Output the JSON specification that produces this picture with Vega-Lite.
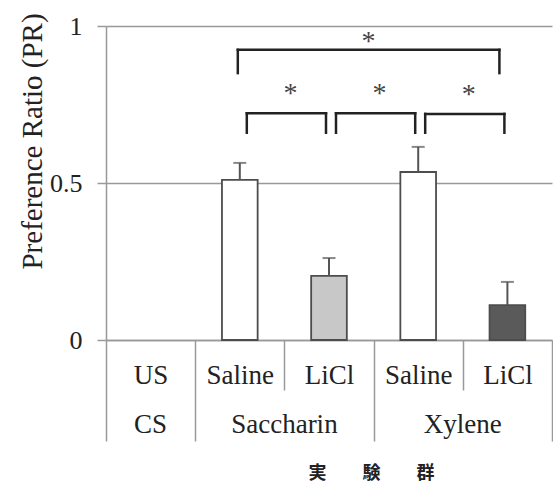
{
  "$schema": "https://vega.github.io/schema/vega-lite/v6.json",
  "width": 446,
  "height": 314,
  "autosize": {"type": "none"},
  "padding": {"left": 106, "top": 26, "right": 1, "bottom": 144},
  "background": "white",
  "config": {"view": {"stroke": null}, "font": "Liberation Serif"},
  "datasets": {
    "groups": [
      {"slot": "Sac-Saline", "pr": 0.51, "upper": 0.564},
      {"slot": "Sac-LiCl", "pr": 0.204, "upper": 0.261},
      {"slot": "Xyl-Saline", "pr": 0.535, "upper": 0.615},
      {"slot": "Xyl-LiCl", "pr": 0.111, "upper": 0.185}
    ],
    "brackets": [
      {"level": "pair", "from": "Sac-Saline", "to": "Sac-LiCl", "mid": "Sac-LiCl", "top": 0.722, "foot": 0.66, "star": 0.784},
      {"level": "pair", "from": "Sac-LiCl", "to": "Xyl-Saline", "mid": "Xyl-Saline", "top": 0.722, "foot": 0.66, "star": 0.784},
      {"level": "pair", "from": "Xyl-Saline", "to": "Xyl-LiCl", "mid": "Xyl-LiCl", "top": 0.72, "foot": 0.66, "star": 0.781},
      {"level": "span", "from": "Sac-Saline", "to": "Xyl-LiCl", "mid": "Xyl-Saline", "top": 0.924, "foot": 0.85, "star": 0.949}
    ],
    "cs": [
      {"slot": "US", "cs": "CS", "pos": "center"},
      {"slot": "Sac-Saline", "cs": "Saccharin", "pos": "edge"},
      {"slot": "Xyl-Saline", "cs": "Xylene", "pos": "edge"}
    ]
  },
  "layer": [
    {
      "data": {"name": "groups"},
      "mark": {"type": "bar", "width": {"band": 0.4}, "stroke": "#4d4d4d", "strokeWidth": 1.8},
      "encoding": {
        "x": {
          "field": "slot", "type": "nominal",
          "scale": {"domain": ["US", "Sac-Saline", "Sac-LiCl", "Xyl-Saline", "Xyl-LiCl"], "paddingInner": 0, "paddingOuter": 0},
          "axis": {
            "title": "実　　験　　群",
            "titleFont": "Noto Sans CJK JP", "titleFontSize": 18, "titleFontWeight": "bold", "titleColor": "#222",
            "titleX": 265, "titleY": 133, "titleBaseline": "middle", "titleAlign": "center",
            "labelExpr": "datum.value == 'US' ? 'US' : ((datum.value == 'Sac-Saline' || datum.value == 'Xyl-Saline') ? 'Saline' : ((datum.value == 'Sac-LiCl' || datum.value == 'Xyl-LiCl') ? 'LiCl' : ''))",
            "labelFont": "Liberation Serif", "labelFontSize": 27, "labelColor": "#222", "labelAngle": 0,
            "labelBaseline": "middle", "labelPadding": -66,
            "tickBand": "extent", "tickColor": "#999", "tickWidth": 1.5, "tickSize": 101,
            "tickDash": {"condition": {"test": "datum.value === 'Sac-Saline' || datum.value === 'Xyl-Saline'", "value": [50, 200]}, "value": []},
            "domainColor": "#999", "domainWidth": 1.5, "grid": false
          }
        },
        "y": {
          "field": "pr", "type": "quantitative",
          "scale": {"domain": [0, 1], "nice": false},
          "axis": {
            "values": [0, 0.5, 1],
            "title": "Preference Ratio (PR)",
            "titleFont": "Liberation Serif", "titleFontSize": 29, "titleFontWeight": "normal", "titleColor": "#222",
            "titleX": -74, "titleY": 115, "titleAngle": -90, "titleAlign": "center", "titleBaseline": "middle",
            "labelExpr": "datum.value == 0.5 ? '0.5' : (datum.value == 1 ? '1' : '0')",
            "labelFont": "Liberation Serif", "labelFontSize": 26, "labelColor": "#222", "labelPadding": 15,
            "tickSize": 9, "tickColor": "#999", "tickWidth": 1.5,
            "domainColor": "#999", "domainWidth": 1.5,
            "grid": true, "gridColor": "#999", "gridWidth": 1.5
          }
        },
        "fill": {
          "field": "slot", "type": "nominal",
          "scale": {"domain": ["Sac-Saline", "Sac-LiCl", "Xyl-Saline", "Xyl-LiCl"], "range": ["#ffffff", "#c8c8c8", "#ffffff", "#5a5a5a"]},
          "legend": null
        }
      }
    },
    {
      "data": {"name": "groups"},
      "mark": {"type": "rule", "color": "#555", "strokeWidth": 2},
      "encoding": {
        "x": {"field": "slot", "type": "nominal"},
        "y": {"field": "pr", "type": "quantitative"},
        "y2": {"field": "upper"}
      }
    },
    {
      "data": {"name": "groups"},
      "mark": {"type": "tick", "color": "#555", "thickness": 2, "size": 13},
      "encoding": {
        "x": {"field": "slot", "type": "nominal"},
        "y": {"field": "upper", "type": "quantitative"}
      }
    },
    {
      "data": {"name": "brackets"},
      "transform": [{"filter": "datum.level == 'pair'"}],
      "mark": {"type": "rule", "color": "#222", "strokeWidth": 2.5, "strokeCap": "square", "xOffset": 7, "x2Offset": -3},
      "encoding": {
        "x": {"field": "from", "type": "nominal"},
        "x2": {"field": "to"},
        "y": {"field": "top", "type": "quantitative"}
      }
    },
    {
      "data": {"name": "brackets"},
      "transform": [{"filter": "datum.level == 'pair'"}],
      "mark": {"type": "rule", "color": "#222", "strokeWidth": 2.5, "strokeCap": "square", "xOffset": 7},
      "encoding": {
        "x": {"field": "from", "type": "nominal"},
        "y": {"field": "top", "type": "quantitative"},
        "y2": {"field": "foot"}
      }
    },
    {
      "data": {"name": "brackets"},
      "transform": [{"filter": "datum.level == 'pair'"}],
      "mark": {"type": "rule", "color": "#222", "strokeWidth": 2.5, "strokeCap": "square", "xOffset": -3},
      "encoding": {
        "x": {"field": "to", "type": "nominal"},
        "y": {"field": "top", "type": "quantitative"},
        "y2": {"field": "foot"}
      }
    },
    {
      "data": {"name": "brackets"},
      "transform": [{"filter": "datum.level == 'span'"}],
      "mark": {"type": "rule", "color": "#222", "strokeWidth": 2.5, "strokeCap": "square", "xOffset": -2, "x2Offset": -8},
      "encoding": {
        "x": {"field": "from", "type": "nominal"},
        "x2": {"field": "to"},
        "y": {"field": "top", "type": "quantitative"}
      }
    },
    {
      "data": {"name": "brackets"},
      "transform": [{"filter": "datum.level == 'span'"}],
      "mark": {"type": "rule", "color": "#222", "strokeWidth": 2.5, "strokeCap": "square", "xOffset": -2},
      "encoding": {
        "x": {"field": "from", "type": "nominal"},
        "y": {"field": "top", "type": "quantitative"},
        "y2": {"field": "foot"}
      }
    },
    {
      "data": {"name": "brackets"},
      "transform": [{"filter": "datum.level == 'span'"}],
      "mark": {"type": "rule", "color": "#222", "strokeWidth": 2.5, "strokeCap": "square", "xOffset": -8},
      "encoding": {
        "x": {"field": "to", "type": "nominal"},
        "y": {"field": "top", "type": "quantitative"},
        "y2": {"field": "foot"}
      }
    },
    {
      "data": {"name": "brackets"},
      "transform": [{"filter": "datum.level == 'pair'"}],
      "mark": {"type": "text", "text": "*", "font": "Liberation Serif", "fontSize": 28, "color": "#444", "baseline": "middle", "dx": 6},
      "encoding": {
        "x": {"field": "mid", "type": "nominal", "bandPosition": 0},
        "y": {"field": "star", "type": "quantitative"}
      }
    },
    {
      "data": {"name": "brackets"},
      "transform": [{"filter": "datum.level == 'span'"}],
      "mark": {"type": "text", "text": "*", "font": "Liberation Serif", "fontSize": 28, "color": "#444", "baseline": "middle", "dx": -5},
      "encoding": {
        "x": {"field": "mid", "type": "nominal", "bandPosition": 0},
        "y": {"field": "star", "type": "quantitative"}
      }
    },
    {
      "data": {"name": "cs"},
      "transform": [{"filter": "datum.pos == 'center'"}],
      "mark": {"type": "text", "font": "Liberation Serif", "fontSize": 27, "color": "#222", "baseline": "middle", "dy": 85},
      "encoding": {
        "x": {"field": "slot", "type": "nominal"},
        "y": {"datum": 0, "type": "quantitative"},
        "text": {"field": "cs"}
      }
    },
    {
      "data": {"name": "cs"},
      "transform": [{"filter": "datum.pos == 'edge'"}],
      "mark": {"type": "text", "font": "Liberation Serif", "fontSize": 27, "color": "#222", "baseline": "middle", "dy": 85},
      "encoding": {
        "x": {"field": "slot", "type": "nominal", "bandPosition": 1},
        "y": {"datum": 0, "type": "quantitative"},
        "text": {"field": "cs"}
      }
    }
  ]
}
